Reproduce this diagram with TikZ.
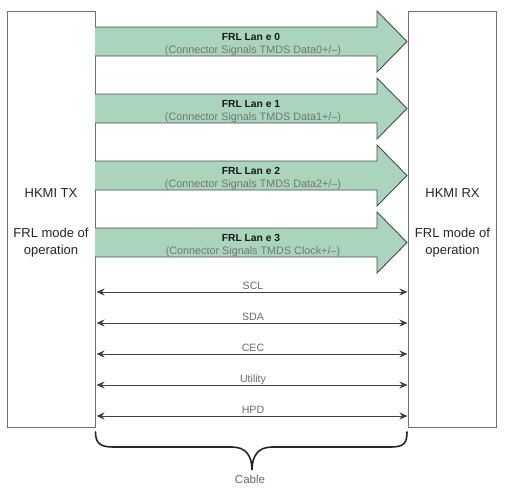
\documentclass[tikz,border=0pt]{standalone}
\usepackage{fontspec}
\setmainfont{Liberation Sans}
\usetikzlibrary{arrows.meta}
\definecolor{lanefill}{RGB}{170,213,188}
\definecolor{laneline}{RGB}{75,75,75}
\definecolor{boxline}{RGB}{115,115,115}
\definecolor{subgray}{RGB}{112,120,115}
\definecolor{siggray}{RGB}{105,105,105}
\tikzset{
  endbox/.style={draw=boxline, line width=1pt, fill=white, inner sep=0pt},
  boxtext/.style={font=\fontsize{13}{15}\selectfont, text=black!85, anchor=base, inner sep=0pt},
  lanebody/.style={fill=lanefill},
  laneedge/.style={draw=laneline, line width=0.9pt, line join=miter},
  lanetitle/.style={font=\bfseries\fontsize{10.3}{12}\selectfont, text=black!90, anchor=base, inner sep=0pt},
  lanesub/.style={font=\fontsize{10.8}{12}\selectfont, text=subgray, anchor=base, inner sep=0pt},
  sigline/.style={draw=black!75, line width=0.9pt, {Stealth[length=8pt,width=7pt]}-{Stealth[length=8pt,width=7pt]}},
  siglabel/.style={font=\fontsize{10.6}{12}\selectfont, text=siggray, anchor=base, inner sep=0pt},
  bracepath/.style={draw=black!85, line width=1.6pt, line cap=round},
  cablelabel/.style={font=\fontsize{11.5}{13}\selectfont, text=siggray, anchor=base, inner sep=0pt}
}
\begin{document}
\begin{tikzpicture}[x=1pt,y=-1pt]
\useasboundingbox (0,0) rectangle (510,492);
% end boxes
\node[endbox, minimum width=88pt, minimum height=416pt] (tx) at (51,219.5) {};
\node[endbox, minimum width=88pt, minimum height=416pt] (rx) at (452.5,219.5) {};
\node[boxtext] (txa) at (51,197) {HKMI TX};
\node[boxtext] (txb) at (51,237) {FRL mode of};
\node[boxtext] (txc) at (51,254) {operation};
\node[boxtext] (rxa) at (452.5,197) {HKMI RX};
\node[boxtext] (rxb) at (452.5,237) {FRL mode of};
\node[boxtext] (rxc) at (452.5,254) {operation};
% lanes
\foreach \i/\sub in {0/{(Connector Signals TMDS Data0+/--)},
                     1/{(Connector Signals TMDS Data1+/--)},
                     2/{(Connector Signals TMDS Data2+/--)},
                     3/{(Connector Signals TMDS Clock+/--)}}{
  \pgfmathsetmacro{\c}{41.5+67*\i}
  \fill[lanebody] (95,\c-14.5) -- (377,\c-14.5) -- (377,\c-30.5) -- (407,\c) -- (377,\c+30.5) -- (377,\c+14.5) -- (95,\c+14.5) -- cycle;
  \draw[laneedge] (95,\c-14.5) -- (377,\c-14.5) -- (377,\c-30.5) -- (407,\c) -- (377,\c+30.5) -- (377,\c+14.5) -- (95,\c+14.5);
  \node[lanetitle] (lt\i) at (251,\c-1) {FRL Lan e \i};
  \node[lanesub] (ls\i) at (253,\c+12) {\sub};
}
% signal lines
\foreach \j/\name in {0/SCL,1/SDA,2/CEC,3/Utility,4/HPD}{
  \pgfmathsetmacro{\y}{292+31*\j}
  \coordinate (sa\j) at (96.5,\y);
  \coordinate (sb\j) at (407.5,\y);
  \draw[sigline] (sa\j) -- (sb\j);
  \node[siglabel] (sl\j) at (253,\y-3) {\name};
}
% brace
\coordinate (bl) at (95.5,432);
\coordinate (br) at (407,432);
\coordinate (bt) at (252,470);
\draw[bracepath] (bl) .. controls (95.5,443) and (100,447) .. (113,447)
  -- (232,447) .. controls (246,447) and (252,456) .. (bt)
  .. controls (252,456) and (258,447) .. (272,447)
  -- (391,447) .. controls (404,447) and (407,443) .. (br);
\node[cablelabel] (cable) at (250,483) {Cable};
\end{tikzpicture}
\end{document}
